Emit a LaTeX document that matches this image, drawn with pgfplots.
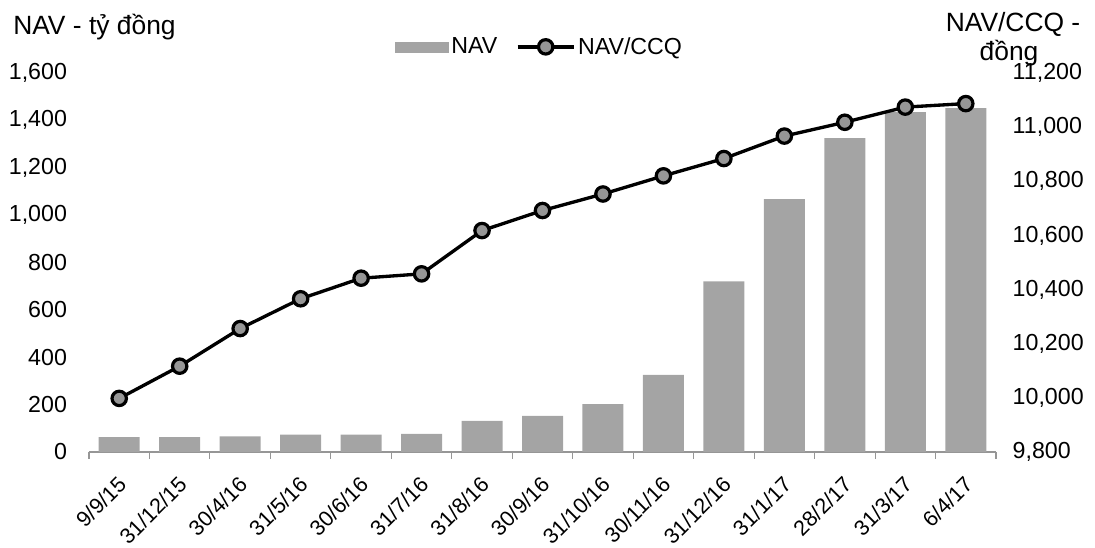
\documentclass[border=0pt]{standalone}
\usepackage{fontspec}
\setmainfont{Liberation Sans}
\usepackage{pgfplots}
\pgfplotsset{compat=1.18}
\definecolor{barGray}{RGB}{164,164,164}
\definecolor{mkGray}{RGB}{150,150,150}
\definecolor{axGray}{RGB}{150,150,150}
\newcommand{\fs}{\fontsize{17.4}{20}\selectfont}
\newcommand{\fx}{\fontsize{16.2}{18}\selectfont}
\newcommand{\ft}{\fontsize{19.8}{23}\selectfont}
\begin{document}
\begin{tikzpicture}[x=0.75pt,y=0.75pt]
\useasboundingbox (0,0) rectangle (1095,548);
\begin{axis}[
  at={(66.75pt,72pt)}, anchor=south west,
  scale only axis, width=680.25pt, height=284.25pt,
  xmin=-0.5, xmax=14.5, ymin=0, ymax=1600,
  ytick={0,200,...,1600},
  axis x line*=bottom, axis y line*=left,
  y axis line style={draw=none},
  x axis line style={axGray, line width=0.8pt, -},
  ytick style={draw=none},
  xtick={0,...,14},
  xticklabels={9/9/15,31/12/15,30/4/16,31/5/16,30/6/16,31/7/16,31/8/16,30/9/16,31/10/16,30/11/16,31/12/16,31/1/17,28/2/17,31/3/17,6/4/17},
  major x tick style={draw=none},
  minor xtick={-0.5,0.5,...,14.5},
  minor x tick style={axGray, line width=0.8pt},
  tick align=outside, minor tick length=5pt, major tick length=5pt,
  xticklabel shift=12pt,
  xticklabel style={font=\fx, inner sep=0pt, xshift=-2pt, rotate=45, anchor=north east},
  yticklabel style={font=\fs, xshift=-8pt},
  scaled y ticks=false,
  /pgf/number format/.cd, 1000 sep={,}, assume math mode=true,
]
\addplot[ybar, bar width=30.75pt, fill=barGray, draw=none] coordinates {
 (0,63) (1,63) (2,66) (3,73) (4,73) (5,77) (6,131) (7,152) (8,202) (9,326)
 (10,720) (11,1068) (12,1325) (13,1435) (14,1452)};
\end{axis}
\begin{axis}[
  at={(66.75pt,72pt)}, anchor=south west,
  scale only axis, width=680.25pt, height=284.25pt,
  xmin=-0.5, xmax=14.5, ymin=9800, ymax=11200,
  ytick={9800,10000,...,11200},
  axis x line=none, axis y line*=right,
  y axis line style={draw=none},
  ytick style={draw=none},
  yticklabel style={font=\fs, xshift=9pt},
  scaled y ticks=false,
  clip=false,
  legend columns=2,
  legend style={draw=none, fill=none, at={(0.497,1.069)}, anchor=center, font=\fs,
    /tikz/every even column/.append style={column sep=12pt}},
  /pgf/number format/.cd, 1000 sep={,}, assume math mode=true,
]
\addlegendimage{legend image code/.code={\fill[barGray] (0pt,-3.75pt) rectangle (40pt,3.75pt);}}
\addlegendentry{NAV}
\addplot[black, line width=2.5pt, mark=*, mark size=5.4pt,
  mark options={fill=mkGray, draw=black, line width=2.4pt},
  legend image code/.code={\draw[black, line width=2.5pt] (0pt,0pt) -- (42pt,0pt);
     \draw[black, line width=2.4pt, fill=mkGray] (21pt,0pt) circle (5.4pt);}] coordinates {
 (0,9998) (1,10117) (2,10256) (3,10366) (4,10442) (5,10458) (6,10618) (7,10692)
 (8,10753) (9,10820) (10,10884) (11,10967) (12,11018) (13,11074) (14,11087)};
\addlegendentry{NAV/CCQ}
\end{axis}
\node[font=\ft, anchor=base west, inner sep=0pt] at (13,513) {NAV - tỷ đồng};
\node[font=\ft, anchor=base, inner sep=0pt] at (1013,516) {NAV/CCQ -};
\node[font=\ft, anchor=base, inner sep=0pt] at (1009,487) {đồng};
\end{tikzpicture}
\end{document}
